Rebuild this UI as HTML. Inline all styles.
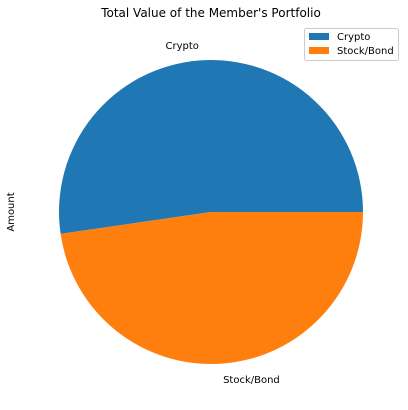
<!DOCTYPE html>
<html><head><meta charset="utf-8"><style>
body{margin:0;background:#fff;}
svg{display:block;font-family:"DejaVu Sans","Liberation Sans",sans-serif;}
</style></head><body>
<svg id="chart" width="408" height="410">
<text x="211" y="17" font-size="12" text-anchor="middle" fill="#000">Total Value of the Member's Portfolio</text>
<text transform="translate(14,212) rotate(-90)" font-size="10" text-anchor="middle" fill="#000">Amount</text>
<g id="slices"></g>
<g>
<rect x="304.5" y="28.5" width="94" height="32" rx="2" fill="#fff" stroke="#ccc"/>
<g><rect x="309" y="33" width="20" height="7" fill="#1f77b4"/><text x="337" y="40" font-size="10">Crypto</text></g>
<g><rect x="309" y="47" width="20" height="7" fill="#ff7f0e"/><text x="337" y="54" font-size="10">Stock/Bond</text></g>
</g>
</svg>
<script>
const categories=["Crypto","Stock/Bond"];
const amounts=[52.3,47.7];
const colors=["#1f77b4","#ff7f0e"];
const cx=211,cy=212,r=152;
const g=document.getElementById('slices');
const ns="http://www.w3.org/2000/svg";
const total=amounts.reduce((a,b)=>a+b,0);
let start=0;
amounts.forEach((v,i)=>{
  const sweep=v/total*2*Math.PI;
  const a0=start,a1=start+sweep;
  const x0=cx+r*Math.cos(a0),y0=cy-r*Math.sin(a0);
  const x1=cx+r*Math.cos(a1),y1=cy-r*Math.sin(a1);
  const p=document.createElementNS(ns,'path');
  p.setAttribute('d',`M${cx},${cy}L${x0},${y0}A${r},${r} 0 ${sweep>Math.PI?1:0} 0 ${x1},${y1}Z`);
  p.setAttribute('fill',colors[i]);
  
  
  g.appendChild(p);
  const mid=(a0+a1)/2;
  const lx=cx+1.1*r*Math.cos(mid),ly=cy-1.1*r*Math.sin(mid);
  const t=document.createElementNS(ns,'text');
  t.setAttribute('x',lx);t.setAttribute('y',ly+4);
  t.setAttribute('font-size','10');
  t.setAttribute('text-anchor',Math.cos(mid)<0?'end':'start');
  t.textContent=categories[i];
  
  
  g.appendChild(t);
  start=a1;
});
</script>
</body></html>
